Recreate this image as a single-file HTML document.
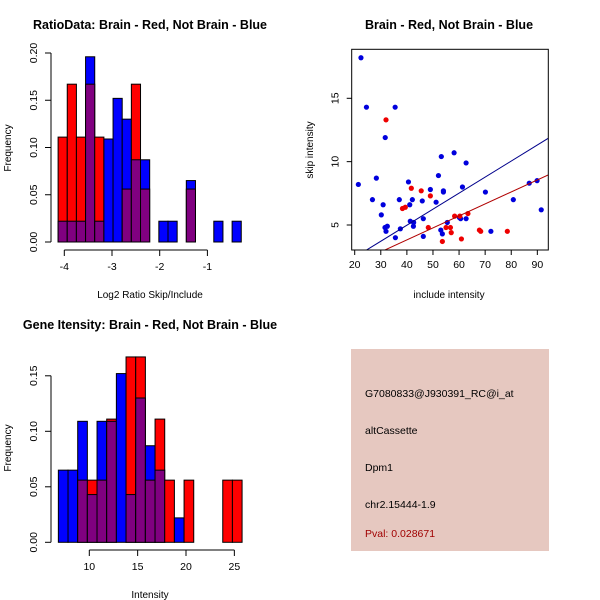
<!DOCTYPE html>
<html><head><meta charset="utf-8"><style>
html,body{margin:0;padding:0;background:#fff;}
svg{display:block;font-family:"Liberation Sans",sans-serif;}
</style></head><body>
<svg id="s" width="600" height="600" viewBox="0 0 600 600" xmlns="http://www.w3.org/2000/svg">
<rect x="0" y="0" width="600" height="600" fill="#fff"/>
<g id="info">
<rect x="351" y="349" width="198" height="202" fill="#e6c8c0"/>
<text x="365" y="397" font-size="10.5" fill="#000">G7080833@J930391_RC@i_at</text>
<text x="365" y="434" font-size="10.5" fill="#000">altCassette</text>
<text x="365" y="471" font-size="10.5" fill="#000">Dpm1</text>
<text x="365" y="508" font-size="10.5" fill="#000">chr2.15444-1.9</text>
<text x="365" y="537" font-size="10.5" fill="#a00000">Pval: 0.028671</text>
</g>
</svg>
<script>
// ---- Histogram 1 data (log2 ratio) ----
const ratioBinStart = -4.13;
const ratioBinWidth = 0.192;
const ratioRed = [0.111,0.167,0.111,0.167,0.111,0,0,0.056,0.167,0.056,0,0,0,0,0.056,0,0,0,0,0];
const ratioBlue = [0.022,0.022,0.022,0.196,0.022,0.109,0.152,0.130,0.087,0.087,0,0.022,0.022,0,0.065,0,0,0.022,0,0.022];
const ratioXTicks = [-4,-3,-2,-1];
const ratioYTicks = [0,0.05,0.10,0.15,0.20];
const ratioYLabels = ["0.00","0.05","0.10","0.15","0.20"];
// ---- Histogram 2 data (intensity) ----
const intBinStart = 6.8;
const intBinWidth = 1.0;
const intRed = [0,0,0.056,0.056,0.056,0.111,0,0.167,0.167,0.056,0.111,0.056,0,0.056,0,0,0,0.056,0.056];
const intBlue = [0.065,0.065,0.109,0.043,0.109,0.109,0.152,0.043,0.130,0.087,0.065,0,0.022,0,0,0,0,0,0];
const intXTicks = [10,15,20,25];
const intYTicks = [0,0.05,0.10,0.15];
const intYLabels = ["0.00","0.05","0.10","0.15"];
// ---- Scatter data ----
const blueX = [22.4,21.4,24.5,28.3,26.8,35.5,31.7,30.9,30.2,31.6,32.5,32.0,35.6,37.1,37.5,40.6,41.1,42.1,41.3,42.6,42.5,45.9,46.3,46.3,49.0,51.2,52.1,53.2,54.0,54.0,53.0,53.6,55.5,58.1,60.1,60.6,61.3,62.7,62.7,70.1,72.2,80.8,86.9,89.9,91.5];
const blueY = [18.2,8.2,14.3,8.7,7.0,14.3,11.9,6.6,5.8,4.8,4.9,4.5,4.0,7.0,4.7,8.4,6.6,7.0,5.3,5.2,4.9,6.9,5.5,4.1,7.8,6.8,8.9,10.4,7.7,7.6,4.6,4.3,5.2,10.7,5.6,5.5,8.0,9.9,5.5,7.6,4.5,7.0,8.3,8.5,6.2];
const redX = [32.0,41.7,45.5,49.0,38.3,39.4,48.2,55.0,56.7,57.0,53.6,60.9,58.3,60.3,63.4,67.8,68.3,78.5];
const redY = [13.3,7.9,7.7,7.3,6.3,6.4,4.8,4.8,4.8,4.4,3.7,3.9,5.7,5.7,5.9,4.6,4.5,4.5];
const blueFit = [-0.08,0.1266];
const redFit = [0.04,0.0946];
const scXTicks = [20,30,40,50,60,70,80,90];
const scYTicks = [5,10,15];

const NS="http://www.w3.org/2000/svg";
const svg=document.getElementById('s');
function mk(tag,attrs,parent){const e=document.createElementNS(NS,tag);for(const k in attrs)e.setAttribute(k,attrs[k]);(parent||svg).appendChild(e);return e;}
function txt(x,y,s,size,extra,parent){const t=mk('text',Object.assign({x:x,y:y,'font-size':size,'text-anchor':'middle',fill:'#000'},extra||{}),parent);t.textContent=s;return t;}

function histogram(cfg){
  const g=mk('g',{});
  
  
  const xs=v=>cfg.x0px+(v-cfg.x0v)*cfg.xk;
  const ys=v=>cfg.base-v*cfg.yk;
  for(let i=0;i<cfg.red.length;i++){
    const r=cfg.red[i],b=cfg.blue[i];
    const l=xs(cfg.start+i*cfg.w), rr=xs(cfg.start+(i+1)*cfg.w);
    const mx=Math.max(r,b), mn=Math.min(r,b);
    if(mx>0){
      const bar=mk('rect',{x:l,y:ys(mx),width:rr-l,height:cfg.base-ys(mx),fill:r>=b?'#ff0000':'#0000ff',stroke:'#000','stroke-width':1},g);
      
      
    }
    if(mn>0){
      const p=mk('rect',{x:l,y:ys(mn),width:rr-l,height:cfg.base-ys(mn),fill:'#800080',stroke:'#000','stroke-width':1},g);
      
      
    }
  }
  const yt=cfg.yTicks;
  mk('line',{x1:cfg.axX,y1:ys(yt[0]),x2:cfg.axX,y2:ys(yt[yt.length-1]),stroke:'#000'},g);
  yt.forEach((v,i)=>{
    mk('line',{x1:cfg.axX-6,y1:ys(v),x2:cfg.axX,y2:ys(v),stroke:'#000'},g);
    const t=txt(0,0,cfg.yLabels[i],10.5,{transform:`translate(${cfg.axX-14},${ys(v)}) rotate(-90)`},g);
    
    
  });
  const xt=cfg.xTicks;
  mk('line',{x1:xs(xt[0]),y1:cfg.axY,x2:xs(xt[xt.length-1]),y2:cfg.axY,stroke:'#000'},g);
  xt.forEach(v=>{
    mk('line',{x1:xs(v),y1:cfg.axY,x2:xs(v),y2:cfg.axY+6,stroke:'#000'},g);
    const t=txt(xs(v),cfg.axY+20,String(v),10.5,{},g);
    
    
  });
  const ti=txt(150,cfg.titleY,cfg.title,12.5,{'font-weight':'bold'},g);
  
  
  const xl=txt(150,cfg.xlabY,cfg.xlab,10,{},g);
  
  
  const yl=txt(0,0,'Frequency',10,{transform:`translate(11,${cfg.ylabY}) rotate(-90)`},g);
  
  
}

histogram({name:'ratio-histogram',red:ratioRed,blue:ratioBlue,start:ratioBinStart,w:ratioBinWidth,
  x0px:64.3,x0v:-4,xk:47.7,base:242,yk:945,axX:51,axY:250,yTicks:ratioYTicks,yLabels:ratioYLabels,xTicks:ratioXTicks,
  title:'RatioData: Brain - Red, Not Brain - Blue',titleY:29,xlab:'Log2 Ratio Skip/Include',xlabY:298,ylabY:148});
histogram({name:'intensity-histogram',red:intRed,blue:intBlue,start:intBinStart,w:intBinWidth,
  x0px:89.3,x0v:10,xk:9.67,base:542.3,yk:1110,axX:51,axY:550,yTicks:intYTicks,yLabels:intYLabels,xTicks:intXTicks,
  title:'Gene Itensity: Brain - Red, Not Brain - Blue',titleY:329,xlab:'Intensity',xlabY:598,ylabY:448});

(function(){
  const g=mk('g',{});
  
  
  const L=351.7,R=548.3,T=49.3,B=250;
  const xs=v=>354.7+(v-20)*2.609;
  const ys=v=>225-(v-5)*12.67;
  const cp=mk('clipPath',{id:'clip'},g);
  mk('rect',{x:L,y:T,width:R-L,height:B-T},cp);
  blueX.forEach((x,i)=>{
    const c=mk('circle',{cx:xs(x),cy:ys(blueY[i]),r:2.6,fill:'#0000dd'},g);
    
    
  });
  redX.forEach((x,i)=>{
    const c=mk('circle',{cx:xs(x),cy:ys(redY[i]),r:2.6,fill:'#ee0000'},g);
    
    
  });
  [[blueFit,'#00008b','fit-line-blue'],[redFit,'#b00000','fit-line-red']].forEach(([f,col,nm])=>{
    const x1=0,x2=120;
    const l=mk('line',{x1:xs(x1),y1:ys(f[0]+f[1]*x1),x2:xs(x2),y2:ys(f[0]+f[1]*x2),stroke:col,'stroke-width':1,'clip-path':'url(#clip)'},g);
    
    
  });
  mk('rect',{x:L,y:T,width:R-L,height:B-T,fill:'none',stroke:'#000'},g);
  scXTicks.forEach(v=>{
    mk('line',{x1:xs(v),y1:B,x2:xs(v),y2:B+5,stroke:'#000'},g);
    const t=txt(xs(v),B+18,String(v),10.5,{},g);
    
    
  });
  scYTicks.forEach(v=>{
    mk('line',{x1:L-5,y1:ys(v),x2:L,y2:ys(v),stroke:'#000'},g);
    const t=txt(0,0,String(v),10.5,{transform:`translate(${L-13},${ys(v)}) rotate(-90)`},g);
    
    
  });
  const ti=txt(449,29,'Brain - Red, Not Brain - Blue',12.5,{'font-weight':'bold'},g);
  
  
  const xl=txt(449,298,'include intensity',10,{},g);
  
  
  const yl=txt(0,0,'skip intensity',10,{transform:'translate(313,150) rotate(-90)'},g);
  
  
})();
</script>
</body></html>
